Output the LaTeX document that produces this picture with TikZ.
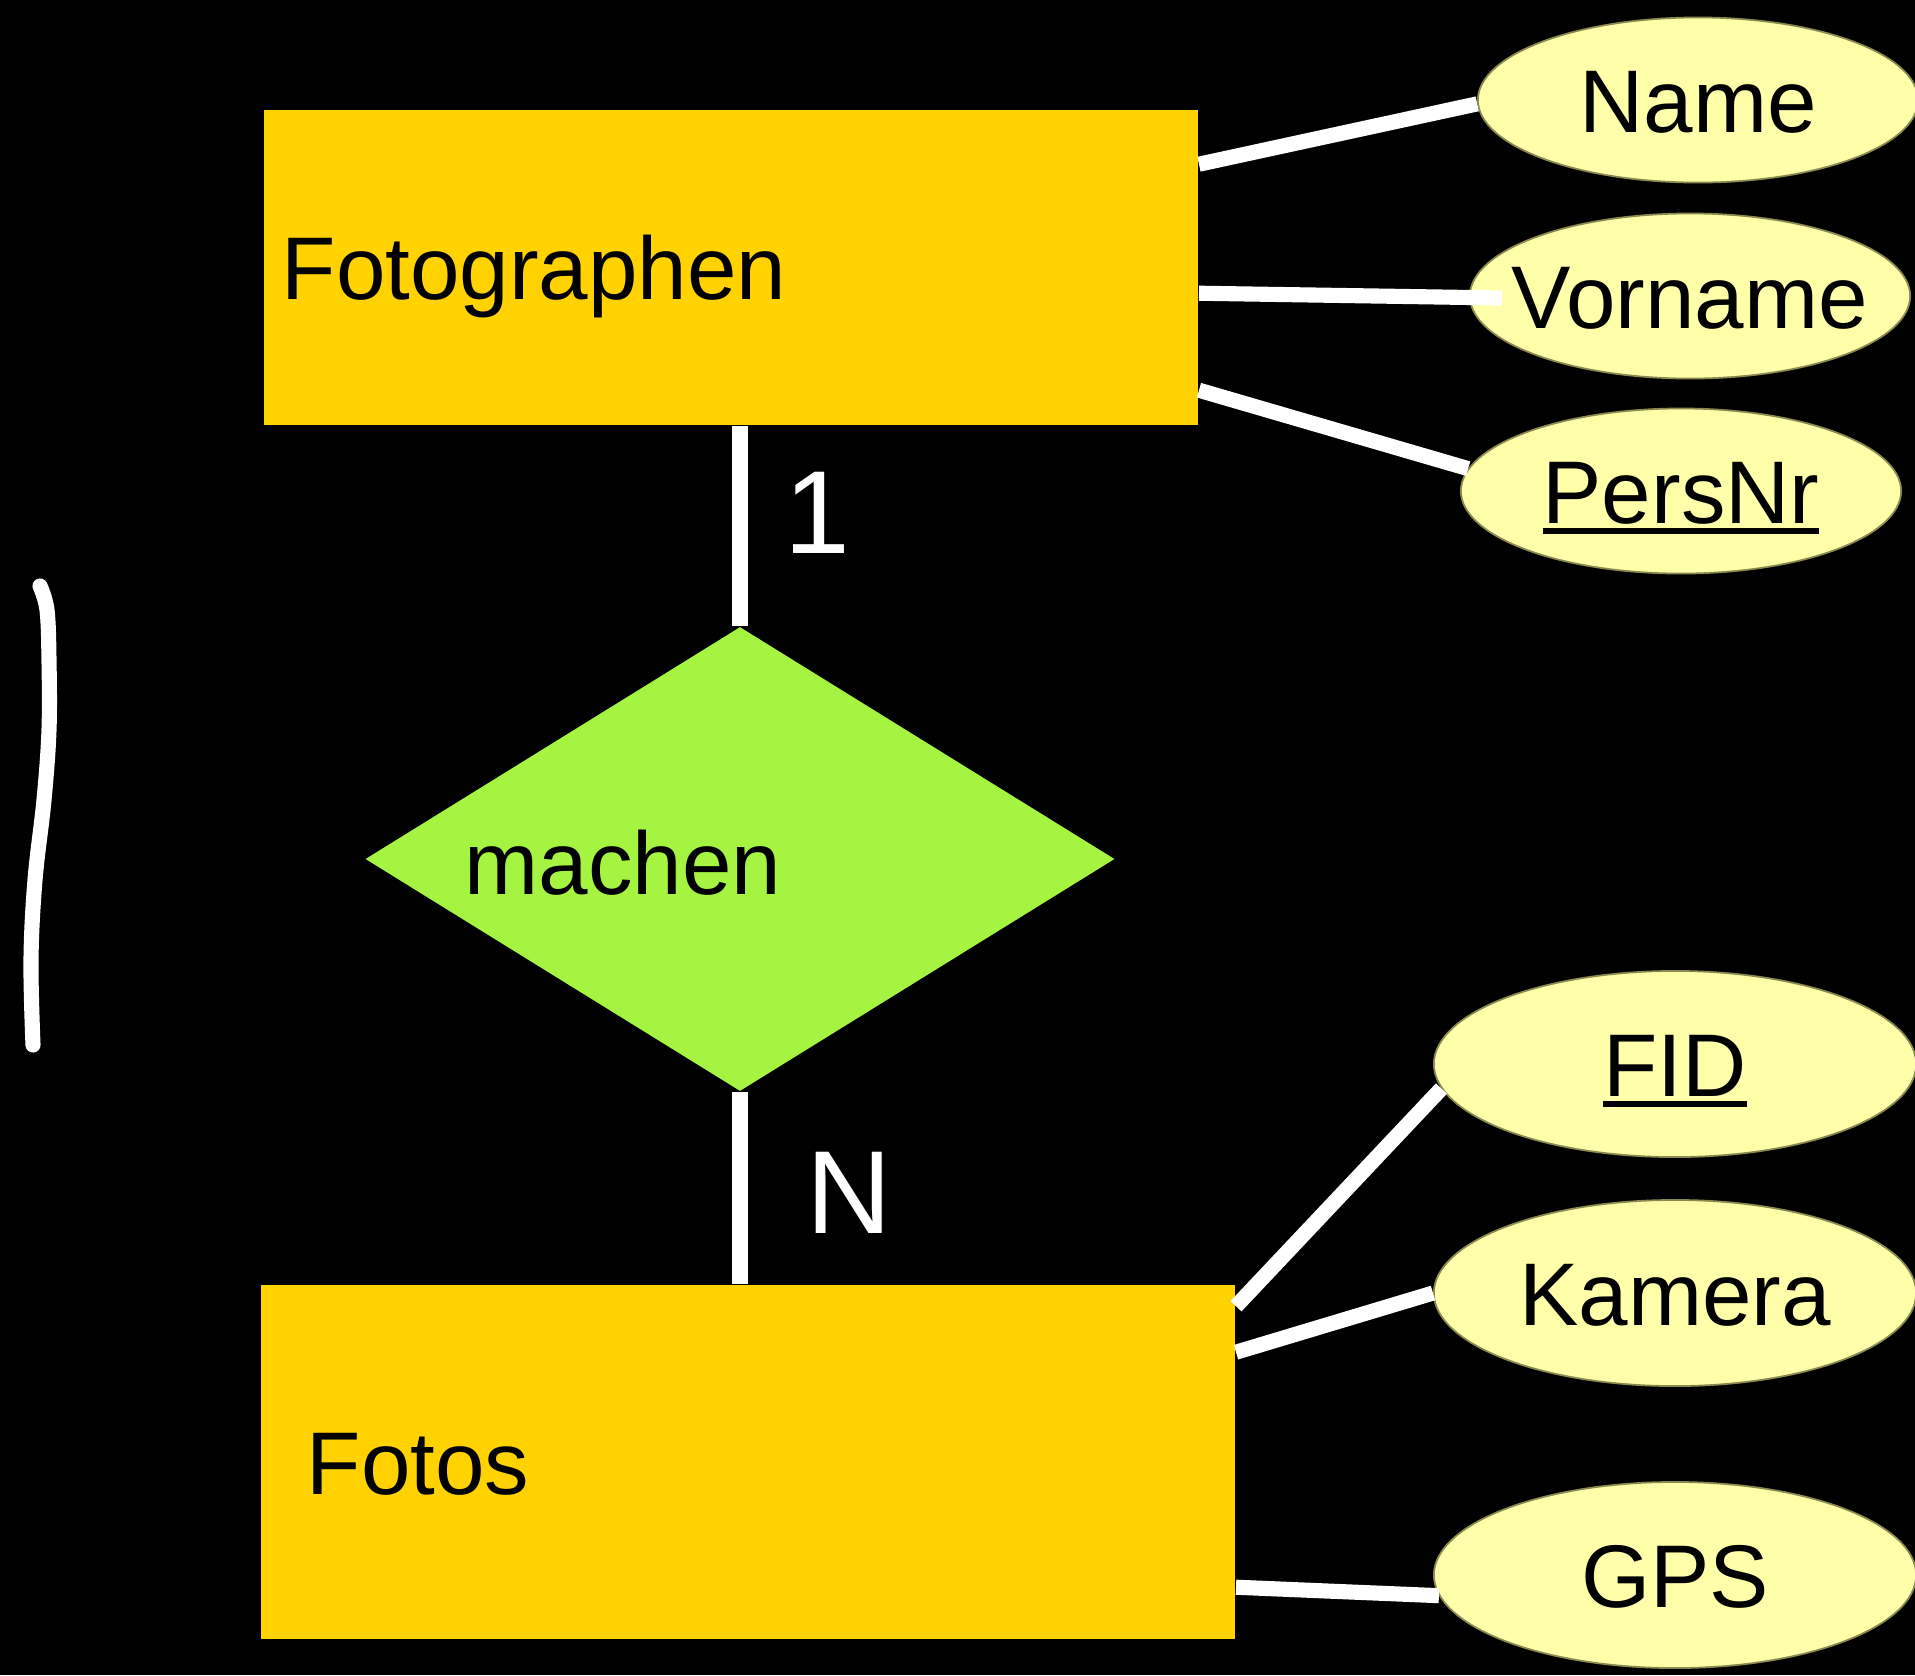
\documentclass[tikz,border=0pt]{standalone}
\usepackage{fontspec}
\setmainfont{Liberation Sans}
\usetikzlibrary{shapes.geometric,calc}
\definecolor{entfill}{HTML}{FFD200}
\definecolor{relfill}{HTML}{A6F442}
\definecolor{attfill}{HTML}{FFFFAA}
\definecolor{attedge}{HTML}{8A8A50}
\newcommand\keyattr[1]{\setbox0\hbox{#1}\rlap{\rule[-0.12em]{\wd0}{0.06em}}\box0}
\newcommand\ctr[1]{\makebox[0pt]{#1}}
\begin{document}
\begin{tikzpicture}[x=0.01cm,y=-0.01cm,
  every node/.style={font=\fontsize{25.3}{30}\selectfont},
  entity/.style={rectangle, fill=entfill, inner ysep=0pt, text height=18.2pt, text depth=0pt, align=left},
  relation/.style={diamond, fill=relfill, inner sep=0pt, minimum width=7.49cm, minimum height=4.64cm},
  attrup/.style={ellipse, fill=attfill, draw=attedge, line width=0.5pt, inner sep=0pt, minimum width=4.40cm, minimum height=1.65cm, text height=18.2pt, text depth=0pt},
  attrlow/.style={ellipse, fill=attfill, draw=attedge, line width=0.5pt, inner sep=0pt, minimum width=4.82cm, minimum height=1.86cm, text height=18.2pt, text depth=0pt},
  conn/.style={draw=white, line width=4.3pt},
  card/.style={text=white, anchor=base west, inner sep=0pt, font=\fontsize{33.6}{40}\selectfont},
  plain/.style={anchor=base west, inner sep=0pt}]
\useasboundingbox (0,0) rectangle (1915,1675);
\fill[black] (0,0) rectangle (1915,1675);

% entities
\node[entity, minimum width=9.34cm, minimum height=3.15cm, inner xsep=0.18cm, text width=8.98cm] (fg) at (731,267.5) {Fotographen};
\node[entity, minimum width=9.74cm, minimum height=3.54cm, inner xsep=0.46cm, text width=8.82cm] (ft) at (748,1462) {Fotos};

% relationship
\node[relation] (rel) at (740,859) {};
\node[plain] (reltext) at (464,894) {machen};

% attributes
\node[attrup] (nm) at (1698,100) {\ctr{Name}};
\node[attrup] (vn) at (1690,296) {\ctr{Vorname}};
\node[attrup] (pn) at (1681,491) {\ctr{\keyattr{PersNr}}};
\node[attrlow] (fid) at (1675,1064) {\ctr{\keyattr{FID}}};
\node[attrlow] (km) at (1675,1293) {\ctr{Kamera}};
\node[attrlow] (gps) at (1675,1575) {\ctr{GPS}};

% relationship connectors
\draw[conn] (rel.north) -- (rel.north |- fg.south);
\draw[conn] (rel.south) -- (rel.south |- ft.north);
\node[card] (one) at (784,553) {1};
\node[card] (many) at (806,1233) {N};

% attribute connectors
\coordinate (vnend) at ($(vn.west)+(33,2)$);
\draw[conn] ($(fg.north east)+(0,55)$) -- (nm.181);
\draw[conn] ($(fg.north east)+(0,184)$) -- (vnend);
\draw[conn] ($(fg.north east)+(0,281)$) -- (pn.174);
\draw[conn] ($(ft.north east)+(0,22)$) -- (fid.186);
\draw[conn] ($(ft.north east)+(0,68)$) -- (km.west);
\draw[conn] ($(ft.north east)+(0,303)$) -- (gps.185);

% hand-drawn stroke
\draw[white, line width=4.3pt, line cap=round, line join=round] plot[smooth, tension=0.6] coordinates {(40,586) (47,610) (49,660) (49,730) (44,800) (35,880) (31,960) (33,1045)};
\end{tikzpicture}
\end{document}
